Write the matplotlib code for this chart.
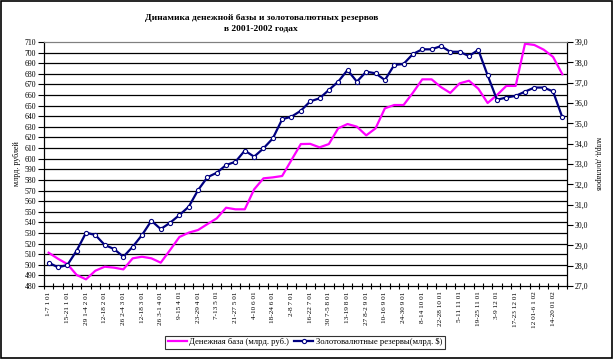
import matplotlib
matplotlib.use("Agg")
import matplotlib.pyplot as plt
from matplotlib.patches import Rectangle
import numpy as np

labels = ['1-7 1 01','15-21 1 01','29 1-4 2 01','12-18 2 01','26 2-4 3 01','12-18 3 01',
          '26 3-1 4 01','9-15 4 01','23-29 4 01','7-13 5 01','21-27 5 01','4-10 6 01',
          '18-24 6 01','2-8 7 01','16-22 7 01','30 7-5 8 01','13-19 8 01','27 8-2 9 01',
          '10-16 9 01','24-30 9 01','8-14 10 01','22-28 10 01','5-11 11 01','19-25 11 01',
          '3-9 12 01','17-23 12 01','12 01-6 1 02','14-20 01 02']

money_base = [511.4, 505.7, 500.7, 490.4, 486.3, 494.4, 498.2, 497.3, 495.7, 506.1,
              507.6, 506.1, 502.0, 513.9, 526.2, 530.3, 532.8, 538.4, 543.8, 553.8,
              552.3, 552.3, 571.1, 581.5, 582.4, 583.7, 598.8, 613.8, 614.0, 610.7,
              613.8, 628.6, 632.7, 630.2, 622.0, 628.6, 647.5, 650.6, 650.6, 662.2,
              674.8, 674.8, 667.5, 662.0, 671.0, 673.5, 666.0, 652.5, 660.0, 668.6,
              668.6, 708.4, 707.2, 702.8, 696.0, 679.6]

reserves = [28.15, 27.92, 28.03, 28.74, 29.62, 29.51, 29.02, 28.82, 28.44, 28.93,
            29.51, 30.21, 29.80, 30.11, 30.49, 30.90, 31.72, 32.35, 32.57, 32.95,
            33.11, 33.66, 33.36, 33.77, 34.26, 35.20, 35.33, 35.62, 36.08, 36.23,
            36.64, 37.05, 37.62, 37.05, 37.54, 37.46, 37.13, 37.87, 37.92, 38.41,
            38.64, 38.64, 38.80, 38.52, 38.52, 38.31, 38.61, 37.36, 36.16, 36.27,
            36.35, 36.56, 36.76, 36.76, 36.57, 35.29]

title = "Динамика денежной базы и золотовалютных резервов\nв 2001-2002 годах"
serif = ['Liberation Serif', 'DejaVu Serif']

fig = plt.figure(figsize=(6.15, 3.59), dpi=100)
fig.patch.set_facecolor('white')
fig.patches.append(Rectangle((0.002, 0.004), 0.993, 0.993, transform=fig.transFigure,
                             fill=False, edgecolor='black', linewidth=1.2))

ax = fig.add_axes([0.0715, 0.2033, 0.8505, 0.6797])
ax2 = ax.twinx()

n = len(money_base)
x = np.arange(n)

ax.set_xlim(-0.5, n - 0.5)
ax.set_ylim(480, 710)
ax2.set_ylim(27, 39)

for v in range(490, 710, 10):
    ax.axhline(v, color='black', linewidth=0.9, zorder=1)

ax.plot(x, money_base, color='#FF00FF', linewidth=1.6, zorder=3,
        label='Денежная база (млрд. руб.)')
ax2.plot(x, reserves, color='#000080', linewidth=1.6, marker='o', markersize=3.0,
         markerfacecolor='white', markeredgecolor='#000080', markeredgewidth=0.8,
         label='Золотовалютные резервы(млрд. $)')

for a in (ax, ax2):
    a.spines['top'].set_color('#808080')
    a.spines['left'].set_color('black')
    a.spines['right'].set_color('black')
    a.spines['bottom'].set_color('black')

ax.set_yticks(np.arange(480, 711, 10))
ax.set_yticklabels([str(v) for v in range(480, 711, 10)], fontsize=5.6, family=serif)
ax.tick_params(axis='y', direction='out', length=4, width=0.8, pad=1.5)

ax2.set_yticks(np.arange(27, 40, 1))
ax2.set_yticklabels([f"{v},0" for v in range(27, 40)], fontsize=5.6, family=serif)
ax2.tick_params(axis='y', direction='out', length=4, width=0.8, pad=1.5)

ax.set_xticks(np.arange(-0.5, n, 1), minor=True)
ax.set_xticks(x[::2])
ax.set_xticklabels(labels, rotation=90, fontsize=5.2, family=serif)
ax.tick_params(axis='x', which='major', length=0, pad=4)
ax.tick_params(axis='x', which='minor', direction='inout', length=5, width=0.8)

fig.text(0.027, 0.545, 'млрд. рублей', rotation=90, ha='center', va='center',
         fontsize=5.8, family=serif)
fig.text(0.972, 0.545, 'млрд. долларов', rotation=270, ha='center', va='center',
         fontsize=5.8, family=serif)

fig.text(0.425, 0.935, title, ha='center', va='center', fontsize=6.8, fontweight='bold',
         family=serif, linespacing=1.3)

h1, l1 = ax.get_legend_handles_labels()
h2, l2 = ax2.get_legend_handles_labels()
leg = fig.legend(h1 + h2, l1 + l2, loc='center', bbox_to_anchor=(0.496, 0.047),
                 ncol=2, frameon=True, fancybox=False, handlelength=2.2,
                 handletextpad=0.3, columnspacing=0.6, borderpad=0.3,
                 prop={'family': serif, 'size': 6.2})
leg.get_frame().set_edgecolor('black')
leg.get_frame().set_linewidth(0.8)

fig.savefig('out.png', dpi=100)
